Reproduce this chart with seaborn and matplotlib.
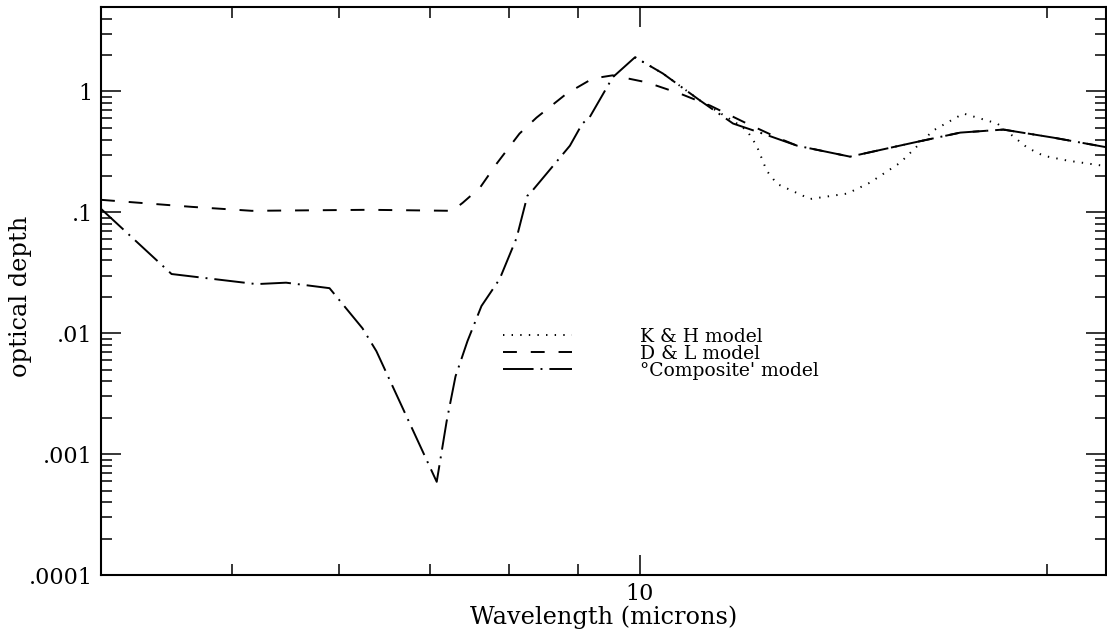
import matplotlib
matplotlib.use("Agg")
import matplotlib.pyplot as plt
import seaborn as sns

# Optical depth of three dust models against wavelength (microns)
kh_wavelength = [9.92, 10.40, 11.08, 11.80, 12.0, 12.2, 12.41, 12.63, 13.36, 14.23,
                 14.79, 15.57, 16.47, 17.34, 18.37, 19.33, 19.87, 20.70, 22.0, 22.3]
kh_tau = [1.92, 1.41, 0.842, 0.543, 0.475, 0.356, 0.221, 0.172, 0.129, 0.143,
          0.176, 0.257, 0.475, 0.657, 0.543, 0.343, 0.294, 0.268, 0.243, 0.24]

dl_wavelength = [4.0, 4.67, 5.17, 6.31, 7.27, 7.40, 7.62, 7.84, 8.15, 8.39, 8.83,
                 9.23, 9.55, 10.12, 10.71, 11.27, 12.0, 12.69, 13.07, 14.30, 15.92,
                 17.25, 18.56, 20.21, 22.3]
dl_tau = [0.127, 0.111, 0.103, 0.105, 0.103, 0.12, 0.16, 0.253, 0.448, 0.608, 0.96,
          1.28, 1.36, 1.19, 0.96, 0.765, 0.543, 0.407, 0.356, 0.289, 0.377,
          0.457, 0.484, 0.415, 0.34]

comp_wavelength = [4.0, 4.51, 5.21, 5.48, 5.90, 6.24, 6.39, 7.08, 7.20, 7.31, 7.46,
                   7.64, 7.88, 8.11, 8.26, 8.33, 8.88, 9.07, 9.18, 9.55, 9.92, 10.40,
                   11.08, 11.72, 12.33, 13.07, 14.30, 15.92, 17.25, 18.56, 20.21, 22.3]
comp_tau = [0.107, 0.0309, 0.0255, 0.0262, 0.0236, 0.011, 0.0071, 0.00059, 0.00186,
            0.0044, 0.0086, 0.0168, 0.0281, 0.0614, 0.137, 0.151, 0.356, 0.543,
            0.608, 1.31, 1.92, 1.41, 0.842, 0.543, 0.448, 0.356, 0.289, 0.377,
            0.457, 0.484, 0.415, 0.34]

model_names = ["K & H model", "D & L model", "°Composite' model"]
x_tick_values = [10]
x_tick_labels = ["10"]
y_tick_values = [1e-4, 1e-3, 1e-2, 1e-1, 1]
y_tick_labels = [".0001", ".001", ".01", ".1", "1"]

sns.set_style("ticks")
plt.rcParams["font.family"] = ["DejaVu Serif"]
plt.rcParams["lines.scale_dashes"] = False
plt.rcParams["text.color"] = "black"
plt.rcParams["axes.labelcolor"] = "black"
plt.rcParams["xtick.color"] = "black"
plt.rcParams["ytick.color"] = "black"

fig = plt.figure(figsize=(11.07, 6.31), dpi=100)
ax = fig.add_axes([101 / 1107, 56 / 631, 1005 / 1107, 568 / 631])

series = [
    (kh_wavelength, kh_tau, (1.0, 5.2)),
    (dl_wavelength, dl_tau, (10, 10)),
    (comp_wavelength, comp_tau, (22, 5, 1.4, 5)),
]
for (wl, tau, dash), name in zip(series, model_names):
    sns.lineplot(x=wl, y=tau, color="black", linewidth=1.4, sort=False,
                 estimator=None, label=name, ax=ax)
    ax.lines[-1].set_dashes(dash)

ax.set_xscale("log")
ax.set_yscale("log")
ax.set_xlim(4.0, 22.1)
ax.set_ylim(1e-4, 5.0)

ax.set_xticks(x_tick_values, x_tick_labels)
ax.set_yticks(y_tick_values, y_tick_labels)
ax.xaxis.set_minor_formatter(plt.NullFormatter())
ax.yaxis.set_minor_formatter(plt.NullFormatter())

ax.tick_params(which="major", direction="in", length=14.5, width=1.1,
               top=True, right=True, labelsize=16, pad=6, colors="black")
ax.tick_params(which="minor", direction="in", length=8, width=1.1,
               top=True, right=True, colors="black")
for spine in ax.spines.values():
    spine.set_linewidth(1.5)
    spine.set_color("black")

ax.set_xlabel("Wavelength (microns)", fontsize=17.3, labelpad=0, color="black")
ax.set_ylabel("optical depth", fontsize=17.3, color="black")
ax.yaxis.set_label_coords(-0.069, 0.49)

leg = ax.legend(loc="upper left", bbox_to_anchor=(0.40, 0.435), frameon=False,
                fontsize=13.5, handlelength=3.7, handletextpad=3.6,
                labelspacing=-0.06, borderpad=0, borderaxespad=0)
for h in leg.legend_handles:
    h.set_linewidth(1.4)
for t in leg.get_texts():
    t.set_color("black")

fig.savefig("out.png", dpi=100)
